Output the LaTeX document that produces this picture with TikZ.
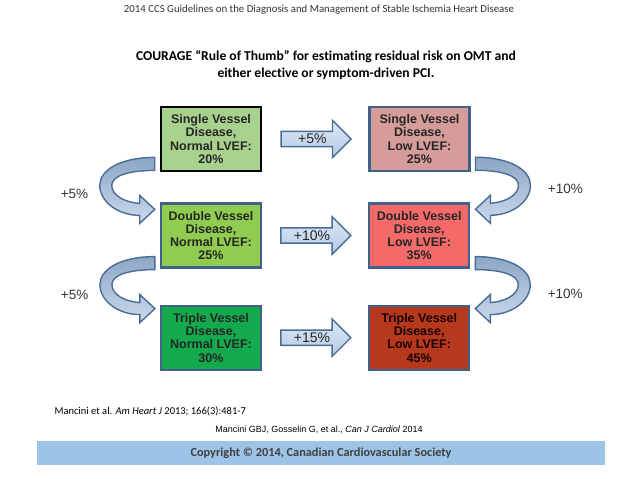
\documentclass[tikz,border=0pt]{standalone}
\usepackage{fontspec}
\setmainfont{Carlito}[Ligatures=NoCommon]
\newfontfamily\arialFont{Liberation Sans}
\usetikzlibrary{calc,positioning,shapes.arrows}

\definecolor{cSingleNorm}{HTML}{A9D18E}
\definecolor{cDoubleNorm}{HTML}{8FCC4F}
\definecolor{cTripleNorm}{HTML}{12AA4C}
\definecolor{cSingleLow}{HTML}{D69C9A}
\definecolor{cDoubleLow}{HTML}{F36A68}
\definecolor{cTripleLow}{HTML}{B6381D}
\definecolor{cBoxLine}{HTML}{41618A}
\definecolor{cArrowLine}{HTML}{4A6D96}
\definecolor{cArrowTop}{HTML}{DDE8F5}
\definecolor{cArrowBot}{HTML}{B3CAE6}
\definecolor{cCurveDark}{HTML}{8DA6C5}
\definecolor{cCurveLight}{HTML}{CBDAEC}
\definecolor{cBand}{HTML}{9DC3E6}

\begin{document}
\begin{tikzpicture}[x=1pt,y=-1pt,
    riskBox/.style={draw=cBoxLine, line width=2.2pt, minimum width=100pt, minimum height=64pt,
        inner sep=0pt, align=center, text=black!85,
        font=\arialFont\bfseries\fontsize{12.5}{13.3}\selectfont},
    blockArrow/.style={single arrow, draw=cArrowLine, line width=1.4pt,
        top color=cArrowTop, bottom color=cArrowBot,
        single arrow head extend=11pt, minimum height=70pt, inner xsep=4pt, inner ysep=2pt,
        anchor=tail, text=black!85, font=\arialFont\fontsize{14}{14}\selectfont},
    curveArrow/.style={draw=cArrowLine, line width=1.4pt, top color=cCurveDark, bottom color=cCurveLight},
    sideLabel/.style={text=black!80, font=\arialFont\fontsize{13.5}{14}\selectfont}]

\useasboundingbox (0,0) rectangle (638,479);

%標題
\node[text=black!80, font=\fontsize{10.8}{12}\selectfont] (tHead) at (319,10)
    {2014 CCS Guidelines on the Diagnosis and Management of Stable Ischemia Heart Disease};
\node[align=center, font=\bfseries\fontsize{13.6}{16.5}\selectfont] (tTitle) at (326,65)
    {COURAGE “Rule of Thumb” for estimating residual risk on OMT and\\
     either elective or symptom-driven PCI.};

%描述方塊
\node[riskBox, fill=cSingleNorm, draw=black, line width=2.8pt] (nSingleNorm) at (211,139)
    {Single Vessel\\Disease,\\Normal LVEF:\\20\%};
\node[riskBox, fill=cDoubleNorm, below=30pt of nSingleNorm] (nDoubleNorm)
    {Double Vessel\\Disease,\\Normal LVEF:\\25\%};
\node[riskBox, fill=cTripleNorm, below=36pt of nDoubleNorm] (nTripleNorm)
    {Triple Vessel\\Disease,\\Normal LVEF:\\30\%};

\node[riskBox, fill=cSingleLow, right=106pt of nSingleNorm] (nSingleLow)
    {Single Vessel\\Disease,\\Low LVEF:\\25\%};
\node[riskBox, fill=cDoubleLow, right=106pt of nDoubleNorm] (nDoubleLow)
    {Double Vessel\\Disease,\\Low LVEF:\\35\%};
\node[riskBox, fill=cTripleLow, right=106pt of nTripleNorm, text=black!90!red] (nTripleLow)
    {Triple Vessel\\Disease,\\Low LVEF:\\45\%};

%橫向箭頭
\node[blockArrow] (aSingle) at ($(nSingleNorm.east)+(18,0)$) {+5\%};
\node[blockArrow] (aDouble) at ($(nDoubleNorm.east)+(18,0)$) {+10\%};
\node[blockArrow] (aTriple) at ($(nTripleNorm.east)+(18,0)$) {+15\%};

%彎曲箭頭
\foreach \cUp/\cLow/\cUpA/\cLowA/\cSide in
    {nSingleNorm/nDoubleNorm/south west/north west/1,
     nDoubleNorm/nTripleNorm/south west/north west/1,
     nSingleLow/nDoubleLow/south east/north east/-1,
     nDoubleLow/nTripleLow/south east/north east/-1}
{
    \begin{scope}[shift={($(\cUp.\cUpA)!0.5!(\cLow.\cLowA)$)}, xscale=\cSide]
    \draw[curveArrow] (-5,-30) .. controls (-40,-30) and (-60,-17) .. (-60,-2)
        .. controls (-60,14) and (-42,28) .. (-20,28)
        -- (-20,36) -- (-5,22) -- (-20,8) -- (-20,16)
        .. controls (-35,15) and (-48,8) .. (-48,-2)
        .. controls (-48,-12) and (-30,-17) .. (-5,-17) -- cycle;
    \end{scope}
}

\node[sideLabel, anchor=east] (lLeftOne) at ($(nSingleNorm.south west)!0.5!(nDoubleNorm.north west)+(-68,6)$) {+5\%};
\node[sideLabel, anchor=east] (lLeftTwo) at ($(nDoubleNorm.south west)!0.5!(nTripleNorm.north west)+(-68,8)$) {+5\%};
\node[sideLabel, anchor=west] (lRightOne) at ($(nSingleLow.south east)!0.5!(nDoubleLow.north east)+(74,2)$) {+10\%};
\node[sideLabel, anchor=west] (lRightTwo) at ($(nDoubleLow.south east)!0.5!(nTripleLow.north east)+(74,7)$) {+10\%};

%出處
\node[anchor=west, font=\fontsize{10.5}{12}\selectfont] (tRefOne) at (51,411)
    {Mancini et al. \textit{Am Heart J} 2013; 166(3):481-7};
\node[font=\arialFont\fontsize{9}{10}\selectfont] (tRefTwo) at (319,430)
    {Mancini GBJ, Gosselin G, et al., \textit{Can J Cardiol} 2014};
\fill[cBand] (37,441) rectangle (605,465);
\node[text=black!75, font=\bfseries\fontsize{12.3}{13}\selectfont] (tCopy) at (321,453)
    {Copyright © 2014, Canadian Cardiovascular Society};
\end{tikzpicture}
\end{document}
